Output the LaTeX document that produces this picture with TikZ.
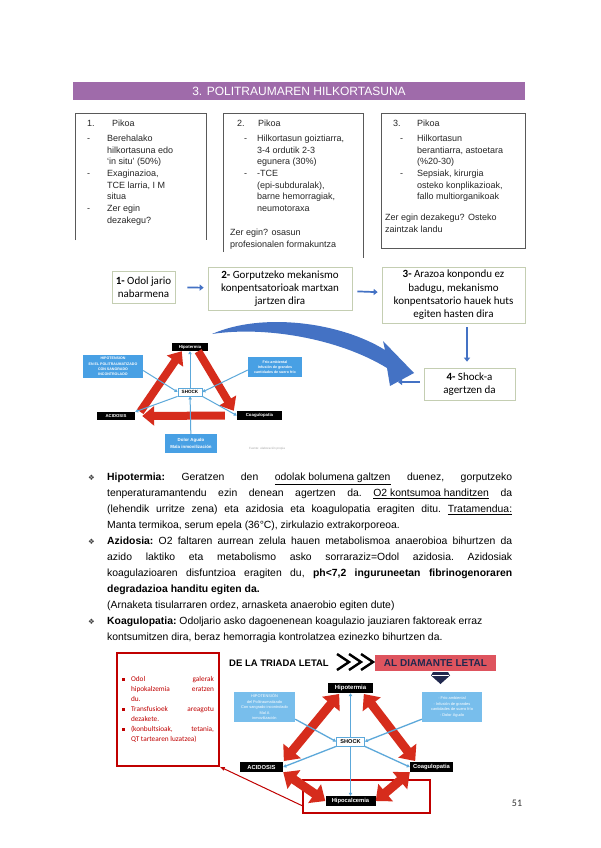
\documentclass[tikz,border=0pt]{standalone}
\usepackage{fontspec}
\usepackage{array}
\setmainfont{Liberation Sans}
\newfontfamily\calib{Carlito}
\newfontfamily\symf{DejaVu Sans}
\usetikzlibrary{arrows.meta,positioning,calc}
\definecolor{HeadPurple}{RGB}{159,107,170}
\definecolor{StageBlue}{RGB}{68,114,196}
\definecolor{StageLine}{RGB}{196,206,178}
\definecolor{CauseBlue}{RGB}{72,160,228}
\definecolor{CauseBlueLt}{RGB}{120,190,236}
\definecolor{LinkBlue}{RGB}{92,168,218}
\definecolor{RedArrow}{RGB}{214,44,28}
\definecolor{NoteRed}{RGB}{192,0,0}
\definecolor{DiamondRed}{RGB}{222,84,94}
\definecolor{GemNavy}{RGB}{32,40,78}
\newcommand\bul{\strut\makebox[19pt][l]{\symf\fontsize{7.5}{8}\selectfont\color{black!75}❖}}
\newcommand\sqbul{\makebox[9pt][l]{\rule[0.6pt]{2.6pt}{2.6pt}}}

\tikzset{
  pikoframe/.style={draw=black!65, line width=0.7pt},
  pikotext/.style={anchor=north west, inner sep=0pt, font=\fontsize{9}{11.7}\selectfont, text=black!85},
  stagebox/.style={draw=StageLine, fill=white, line width=0.7pt, align=center, inner sep=1pt,
    font=\calib\fontsize{11}{13.3}\selectfont},
  flowarrow/.style={-{Triangle[length=4pt,width=6pt]}, line width=1.7pt, StageBlue},
  tagbox/.style={fill=black, text=white, inner sep=0pt, font=\bfseries\fontsize{#1}{#1}\selectfont},
  tagbox/.default=4.3,
  causebox/.style={fill=CauseBlue, text=white, align=center, inner sep=0pt, font=\bfseries\fontsize{3.6}{5.2}\selectfont},
  shockbox/.style={draw=LinkBlue, fill=white, inner sep=0pt, line width=0.8pt, font=\bfseries\fontsize{#1}{#1}\selectfont},
  shockbox/.default=4.6,
  linkarrow/.style={draw=LinkBlue, line width=1pt, -{Triangle[length=3pt,width=3.4pt]}},
  bigred/.style={draw=RedArrow, line width=8pt, -{Triangle[length=12pt,width=19pt]}},
  duored/.style={draw=RedArrow, line width=9pt, {Triangle[length=13pt,width=22pt]}-{Triangle[length=13pt,width=22pt]}},
  bodytext/.style={anchor=north west, inner sep=0pt, text width=424pt, align=justify, font=\fontsize{10.4}{16}\selectfont},
  notebox/.style={draw=NoteRed, line width=1.5pt, minimum width=102pt, minimum height=113pt, inner xsep=5pt,
    text width=92pt, align=justify, text=NoteRed, font=\calib\fontsize{7.3}{10}\selectfont},
}

\begin{document}
\begin{tikzpicture}[x=1pt,y=-1pt,>=Latex]
  \useasboundingbox[fill=white] (0,0) rectangle (600,848);

  % title bar
  \node[fill=HeadPurple, minimum width=452pt, minimum height=18pt, inner sep=0pt, text=white,
    font=\fontsize{12}{14}\selectfont] (hdr) at (299,91) {3. POLITRAUMAREN HILKORTASUNA};

  % the three peaks
  \draw[pikoframe] (75,240) -- (75,113) -- (206,113) -- (206,240);
  \draw[pikoframe] (223,252) -- (223,113) -- (363,113) -- (363,258);
  \draw[pikoframe] (381,113) rectangle (525,248);
  \node[pikotext] (piko1) at (87,118.3) {\begin{tabular}{@{}w{l}{20pt}@{}l@{}}
    1. & \hspace{5pt}Pikoa\\[3pt]
    - & Berehalako\\
      & hilkortasuna edo\\
      & ‘in situ’ (50\%)\\
    - & Exaginazioa,\\
      & TCE larria, I M\\
      & situa\\
    - & Zer egin\\
      & dezakegu?
  \end{tabular}};
  \node[pikotext] (piko2) at (230,118.3) {\begin{tabular}{@{}w{l}{27pt}@{}l@{}}
    \hspace{7pt}2. & \hspace{1pt}Pikoa\\[3pt]
    \hspace{14pt}- & Hilkortasun goiztiarra,\\
      & 3-4 ordutik 2-3\\
      & egunera (30\%)\\
    \hspace{14pt}- & -TCE\\
      & (epi-subduralak),\\
      & barne hemorragiak,\\
      & neumotoraxa\\[12.3pt]
    \multicolumn{2}{@{}l@{}}{Zer egin? osasun}\\
    \multicolumn{2}{@{}l@{}}{profesionalen formakuntza}
  \end{tabular}};
  \node[pikotext] (piko3) at (385,118.3) {\begin{tabular}{@{}w{l}{32pt}@{}l@{}}
    \hspace{8pt}3. & Pikoa\\[3pt]
    \hspace{15pt}- & Hilkortasun\\
      & berantiarra, astoetara\\
      & (\%20-30)\\
    \hspace{15pt}- & Sepsiak, kirurgia\\
      & osteko konplikazioak,\\
      & fallo multiorganikoak\\[9.3pt]
    \multicolumn{2}{@{}l@{}}{Zer egin dezakegu? Osteko}\\
    \multicolumn{2}{@{}l@{}}{zaintzak landu}
  \end{tabular}};

  % shock sequence
  \node[stagebox, minimum width=63pt, minimum height=32pt] (stageA) at (143.5,287) {\textbf{1-} Odol jario\\nabarmena};
  \node[stagebox, minimum width=144pt, minimum height=43pt] (stageB) at (280,288.5) {\textbf{2-} Gorputzeko mekanismo\\konpentsatorioak martxan\\jartzen dira};
  \node[stagebox, minimum width=143pt, minimum height=56pt] (stageC) at (453.5,295) {\textbf{3-} Arazoa konpondu ez\\badugu, mekanismo\\konpentsatorio hauek huts\\egiten hasten dira};
  \node[stagebox, minimum width=91pt, minimum height=32pt] (stageD) at (469.5,384) {\textbf{4-} Shock-a\\agertzen da};
  \coordinate (downx) at (467,0);
  \coordinate (leftend) at (398,382);
  \draw[flowarrow, shorten <=12pt, shorten >=4pt] (stageA) -- (stageB);
  \draw[flowarrow, shorten <=5pt, shorten >=4pt] (stageB) -- (stageC);
  \draw[flowarrow, shorten <=4pt, shorten >=6pt] (stageC.south -| downx) -- (stageD.north -| downx);
  \draw[flowarrow, shorten <=4pt] (stageD.west |- leftend) -- (leftend);
  \fill[StageBlue] (212,334) .. controls (262,312) and (340,322) .. (385,350)
    -- (383,341) -- (414,373) -- (390,386) -- (387,368)
    .. controls (338,338) and (264,326) .. cycle;

  % lethal triad
  \node[tagbox] (hipoA) at (190,347) [minimum width=36pt, minimum height=8pt] {Hipotermia};
  \node[causebox, minimum width=60pt, minimum height=23pt] (lcA) at (113,366.5) {HIPOTENSION\\EN EL POLITRAUMATIZADO\\CON SANGRADO\\INCONTROLADO};
  \node[causebox, minimum width=54pt, minimum height=20pt] (rcA) at (275,367) {Frío ambiental\\Infusión de grandes\\cantidades de suero frío};
  \node[shockbox, minimum width=24pt, minimum height=8pt] (shockA) at (190,392) {SHOCK};
  \node[tagbox, minimum width=38pt, minimum height=8pt] (acidA) at (116,416) {ACIDOSIS};
  \node[tagbox, minimum width=45pt, minimum height=9pt] (coagA) at (259.5,415.5) {Coagulopatia};
  \node[causebox, minimum width=52pt, minimum height=19pt, font=\bfseries\fontsize{4.4}{6.5}\selectfont] (painA) at (191,443.5) {Dolor Agudo\\Mala inmovilización};
  \node[text=black!35, font=\fontsize{3}{3}\selectfont] (creditA) at (267,449) {Fuente: elaboración propia};
  \draw[bigred] ([xshift=5pt]acidA.north east) -- ([xshift=10pt]hipoA.south west);
  \draw[bigred] ([xshift=-10pt]hipoA.south east) -- ([xshift=-3pt]coagA.north west);
  \draw[bigred, shorten <=12pt, shorten >=7pt] (coagA.west) -- (acidA.east);
  \draw[linkarrow] (shockA) -- (hipoA);
  \draw[linkarrow] ([yshift=-4pt]lcA.east) -- (shockA.west);
  \draw[linkarrow] ([yshift=-3pt]rcA.west) -- (shockA.east);
  \draw[linkarrow] (shockA.south west) -- (acidA.north east);
  \draw[linkarrow] (shockA.south east) -- (coagA.west);
  \draw[linkarrow] (painA) -- (shockA);

  % explanations
  \node[bodytext] (body) at (88,469.3) {\parindent=0pt\parskip=0pt\hyphenpenalty=10000\frenchspacing
    \hangindent=19pt\hangafter=1\noindent\bul\textbf{Hipotermia:} Geratzen den \underline{odolak bolumena galtzen} duenez, gorputzeko\linebreak
    tenperaturamantendu ezin denean agertzen da. \underline{O2 kontsumoa handitzen} da\linebreak
    (lehendik urritze zena) eta azidosia eta koagulopatia eragiten ditu. \underline{Tratamendua:}\linebreak
    Manta termikoa, serum epela (36°C), zirkulazio extrakorporeoa.\par
    \hangindent=19pt\hangafter=1\noindent\bul\textbf{Azidosia:} O2 faltaren aurrean zelula hauen metabolismoa anaerobioa bihurtzen da\linebreak
    azido laktiko eta metabolismo asko sorraraziz=Odol azidosia. Azidosiak\linebreak
    koagulazioaren disfuntzioa eragiten du, \textbf{ph<7,2 inguruneetan fibrinogenoraren}\linebreak
    \textbf{degradazioa handitu egiten da.}\par
    \hangindent=19pt\hangafter=0\noindent(Arnaketa tisularraren ordez, arnasketa anaerobio egiten dute)\par
    \hangindent=19pt\hangafter=1\noindent\bul\textbf{Koagulopatia:} Odoljario asko dagoenenean koagulazio jauziaren faktoreak erraz\newline
    kontsumitzen dira, beraz hemorragia kontrolatzea ezinezko bihurtzen da.\par};

  % lethal diamond
  \node[notebox] (note) at (168,709.5) {\hyphenpenalty=10000
    \hangindent=9pt\hangafter=1\noindent\sqbul Odol galerak\linebreak hipokalzemia eratzen\linebreak du.\par
    \hangindent=9pt\hangafter=1\noindent\sqbul Transfusioek areagotu\linebreak dezakete.\par
    \hangindent=9pt\hangafter=1\noindent\sqbul (konbultsioak, tetania,\linebreak QT tartearen luzatzea)\par};
  \node[font=\bfseries\fontsize{9.5}{11}\selectfont] (triada) at (279,663) {DE LA TRIADA LETAL};
  \foreach \cx in {337,349,361}
    \draw[line width=2.4pt] (\cx,654) -- (\cx+12,662) -- (\cx,670);
  \node[fill=DiamondRed, minimum width=121pt, minimum height=16pt, inner sep=0pt, text=GemNavy,
    font=\bfseries\fontsize{10}{12}\selectfont] (diamante) at (435.5,663) {AL DIAMANTE LETAL};
  \fill[GemNavy] (433,672) -- (448,672) -- (450,675.5) -- (440.5,684) -- (431,675.5) -- cycle;
  \draw[white, line width=0.5pt] (432,675.5) -- (449,675.5);

  \node[tagbox=6, minimum width=45pt, minimum height=10pt] (hipoB) at (350.5,688) {Hipotermia};
  \node[causebox, fill=CauseBlueLt, minimum width=61pt, minimum height=30pt, font=\fontsize{3.9}{5.6}\selectfont] (lcB) at (264.5,707) {HIPOTENSIÓN\\del Politraumatizado\\Con sangrado incontrolado\\Mal A\\inmovilización};
  \node[causebox, fill=CauseBlueLt, minimum width=60pt, minimum height=30pt, font=\fontsize{3.9}{5.6}\selectfont] (rcB) at (452,707) {- Frío ambiental\\- Infusión de grandes\\cantidades de suero frío\\- Dolor Agudo};
  \node[shockbox=5.6, minimum width=28pt, minimum height=9pt] (shockB) at (350.5,741.5) {SHOCK};
  \node[tagbox=5.8, minimum width=43pt, minimum height=10pt] (acidB) at (261.5,767) {ACIDOSIS};
  \node[tagbox=5.8, minimum width=43pt, minimum height=10pt] (coagB) at (431.5,767) {Coagulopatia};
  \node[tagbox=5.8, minimum width=50pt, minimum height=10pt] (hcalB) at (350.5,801) {Hipocalcemia};
  \node[draw=NoteRed, line width=1.5pt, minimum width=127pt, minimum height=33pt, inner sep=0pt] (hlbox) at (366.5,796.5) {};
  \draw[duored, shorten <=1pt, shorten >=1pt] (acidB.north east) -- ([xshift=12pt]hipoB.south west);
  \draw[duored, shorten <=1pt, shorten >=1pt] ([xshift=-10pt]hipoB.south east) -- ([xshift=6pt]coagB.north west);
  \draw[duored] (acidB.south east) -- (hcalB.west);
  \draw[duored] (hcalB.east) -- (coagB.south west);
  \draw[linkarrow, line width=1.3pt] (shockB) -- (hipoB);
  \draw[linkarrow, line width=1.3pt] (shockB) -- (hcalB);
  \draw[linkarrow, line width=1.3pt] ([yshift=3pt]lcB.south east) -- (shockB.west);
  \draw[linkarrow, line width=1.3pt] ([yshift=3pt]rcB.south west) -- (shockB.east);
  \draw[linkarrow, line width=1.3pt] (shockB.south west) -- (acidB.east);
  \draw[linkarrow, line width=1.3pt] (shockB.south east) -- (coagB.west);
  \draw[NoteRed, line width=1pt, -{Latex[length=5pt,width=4pt]}] ([yshift=8pt]hlbox.south west) -- (note.south east);

  \node[font=\calib\fontsize{10}{12}\selectfont, text=black!80] (pnum) at (517,803) {51};
\end{tikzpicture}
\end{document}
